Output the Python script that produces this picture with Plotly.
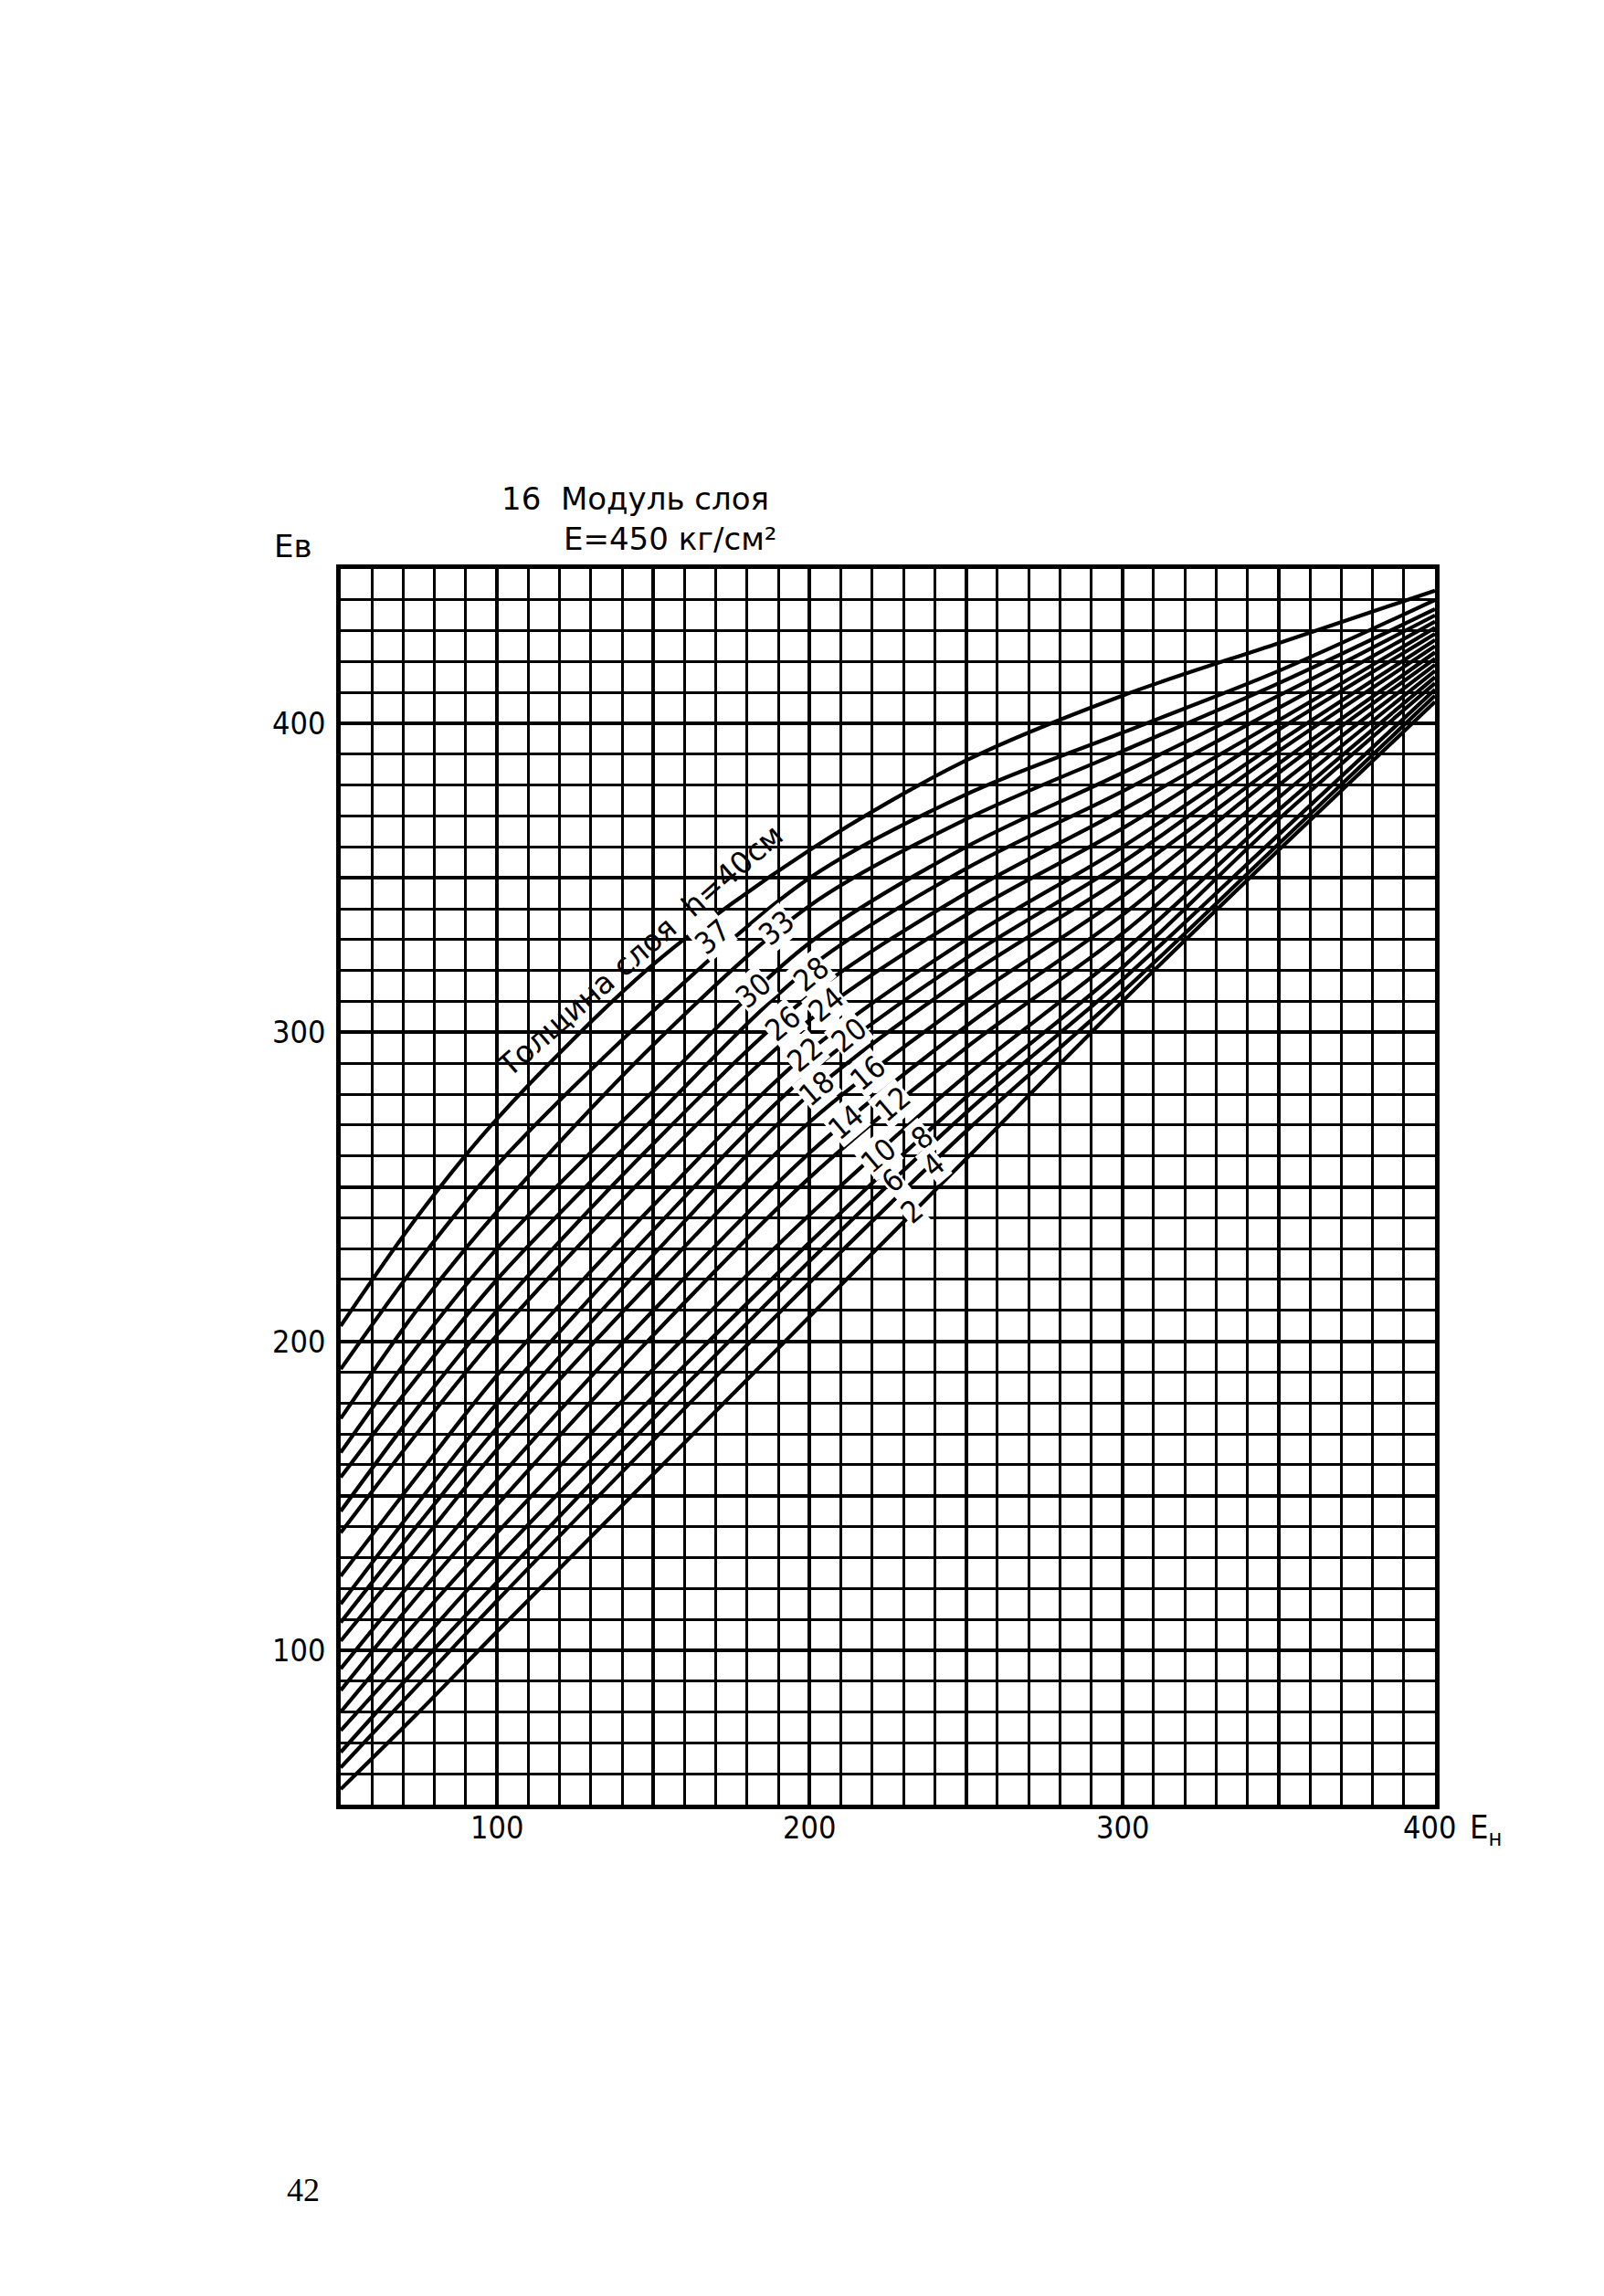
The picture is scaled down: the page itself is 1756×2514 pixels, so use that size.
import plotly.graph_objects as go

# ---------------- data ----------------
x_pts = [50, 75, 100, 150, 200, 250, 300, 350, 400]

thickness = [40, 37, 33, 30, 28, 26, 24, 22, 20, 18, 16, 14, 12, 10, 8, 6, 4, 2]

h40 = [205, 241, 272, 322, 359, 388, 409, 426, 443]
h37 = [191, 226, 257, 307, 350, 377, 397, 417, 440]
h33 = [175, 211, 242, 296, 341, 369, 391, 413, 437]
h30 = [164, 199, 230, 281, 329, 360, 384, 409, 435]
h28 = [156, 189, 220, 272, 321, 353, 378, 405, 433]
h26 = [145, 179, 210, 264, 312, 345, 372, 401, 431]
h24 = [138, 171, 202, 256, 304, 338, 366, 398, 429]
h22 = [124, 157, 189, 244, 294, 330, 360, 394, 427]
h20 = [115, 148, 180, 236, 287, 324, 355, 391, 425]
h18 = [109, 141, 172, 228, 280, 318, 350, 387, 423]
h16 = [103, 134, 165, 220, 271, 310, 344, 384, 421]
h14 = [94, 125, 155, 210, 261, 302, 338, 380, 419]
h12 = [87, 118, 147, 202, 253, 295, 332, 376, 417]
h10 = [80, 110, 138, 191, 241, 286, 326, 372, 415]
h8 = [74, 102, 130, 182, 232, 279, 321, 369, 413]
h6 = [67, 95, 122, 175, 226, 274, 317, 364, 411]
h4 = [62, 89, 116, 168, 219, 268, 313, 361, 409]
h2 = [55, 80, 106, 157, 208, 259, 310, 359, 407]

curves = [h40, h37, h33, h30, h28, h26, h24, h22, h20, h18,
          h16, h14, h12, h10, h8, h6, h4, h2]

# curve labels (text, x, y)
label_text = ["37", "33", "30", "28", "26", "24", "22", "20", "18",
              "16", "14", "12", "10", "8", "6", "4", "2"]
label_x = [169, 189.5, 182, 200.5, 191.5, 205.5, 198.5, 212.6, 202.3,
           218.7, 211.6, 226.6, 222, 236, 226.6, 239.7, 232.7]
label_y = [331, 334, 313.5, 319, 303, 309, 293, 299, 282,
           287, 271, 277, 260, 266, 252, 257, 242]

x_tick_vals = [100, 200, 300]
x_tick_text = ["100", "200", "300"]
y_tick_vals = [100, 200, 300, 400]
y_tick_text = ["100", "200", "300", "400"]

title_line1 = "16  Модуль слоя"
title_line2 = "E=450 кг/см²"
curve_title = "Толщина слоя  h=40см"
y_name = "Eв"
x_name = "E"
x_sub = "н"
page_no = "42"

# ---------------- layout geometry (page pixels) ----------------
W, H = 1756, 2514
L, R, T, B = 365, 1563, 615, 1968


def paper(xp, yp):
    return (xp - L) / (R - L), (B - yp) / (B - T)


NUM_FONT = "Liberation Sans Narrow, DejaVu Sans Condensed, Arial Narrow, sans-serif"
TXT_FONT = "DejaVu Sans, Noto Sans, sans-serif"

fig = go.Figure()

for h, ys in zip(thickness, curves):
    fig.add_trace(go.Scatter(
        x=x_pts, y=ys, mode="lines", name=f"h={h}",
        line=dict(color="black", width=4.2, shape="spline", smoothing=0.9),
        hoverinfo="skip", showlegend=False,
    ))

annotations = []

# curve labels
for t, lx, ly in zip(label_text, label_x, label_y):
    annotations.append(dict(
        x=lx, y=ly, xref="x", yref="y", text=t, showarrow=False,
        xanchor="center", yanchor="middle",
        textangle=-40, font=dict(family=NUM_FONT, size=33, color="black"),
        bgcolor="white", borderpad=0,
    ))

# long label along top curve
px_, py_ = paper(692, 1033)
annotations.append(dict(
    x=px_, y=py_, xref="paper", yref="paper", text=curve_title,
    showarrow=False, textangle=-41, xanchor="center", yanchor="middle",
    font=dict(family=TXT_FONT, size=33, color="black"),
))

# tick labels
for v, t in zip(x_tick_vals, x_tick_text):
    annotations.append(dict(
        x=v, y=paper(0, 1993)[1], xref="x", yref="paper", text=t,
        showarrow=False, font=dict(family=NUM_FONT, size=34, color="black"),
        xanchor="center", yanchor="middle",
    ))
annotations.append(dict(
    x=paper(1557, 0)[0], y=paper(0, 1993)[1], xref="paper", yref="paper",
    text="400", showarrow=False,
    font=dict(family=NUM_FONT, size=34, color="black"),
    xanchor="center", yanchor="middle",
))
annotations.append(dict(
    x=paper(1618, 0)[0], y=paper(0, 1995)[1], xref="paper", yref="paper",
    text=x_name + "<sub>" + x_sub + "</sub>", showarrow=False,
    font=dict(family=NUM_FONT, size=36, color="black"),
    xanchor="center", yanchor="middle",
))
for v, t in zip(y_tick_vals, y_tick_text):
    annotations.append(dict(
        x=paper(350, 0)[0], y=v, xref="paper", yref="y", text=t,
        showarrow=False, font=dict(family=NUM_FONT, size=34, color="black"),
        xanchor="right", yanchor="middle",
    ))

# axis names / titles
annotations.append(dict(
    x=paper(313, 0)[0], y=paper(0, 590)[1], xref="paper", yref="paper",
    text=y_name, showarrow=False,
    font=dict(family=TXT_FONT, size=34, color="black"),
    xanchor="center", yanchor="middle",
))
annotations.append(dict(
    x=paper(687, 0)[0], y=paper(0, 538)[1], xref="paper", yref="paper",
    text=title_line1, showarrow=False,
    font=dict(family=TXT_FONT, size=34, color="black"),
    xanchor="center", yanchor="middle",
))
annotations.append(dict(
    x=paper(726, 0)[0], y=paper(0, 582)[1], xref="paper", yref="paper",
    text=title_line2, showarrow=False,
    font=dict(family=TXT_FONT, size=34, color="black"),
    xanchor="center", yanchor="middle",
))
annotations.append(dict(
    x=paper(324, 0)[0], y=paper(0, 2390)[1], xref="paper", yref="paper",
    text=page_no, showarrow=False,
    font=dict(family="Liberation Serif, DejaVu Serif, serif", size=36, color="black"),
    xanchor="center", yanchor="middle",
))

axis_common = dict(
    showline=True, linecolor="black", linewidth=4.5, mirror=True,
    showgrid=True, gridcolor="black", gridwidth=3.6,
    zeroline=False, showticklabels=False, ticks="",
    tick0=0, dtick=50,
    minor=dict(dtick=10, showgrid=True, gridcolor="black", gridwidth=2.8, ticks=""),
    automargin=False, fixedrange=True,
)

fig.update_layout(
    width=W, height=H,
    margin=dict(l=L, r=W - R, t=T, b=H - B, pad=0),
    paper_bgcolor="white", plot_bgcolor="white",
    xaxis=dict(range=[50, 400], **axis_common),
    yaxis=dict(range=[50, 450], **axis_common),
    annotations=annotations,
    showlegend=False,
)

fig.write_html("out.html")
